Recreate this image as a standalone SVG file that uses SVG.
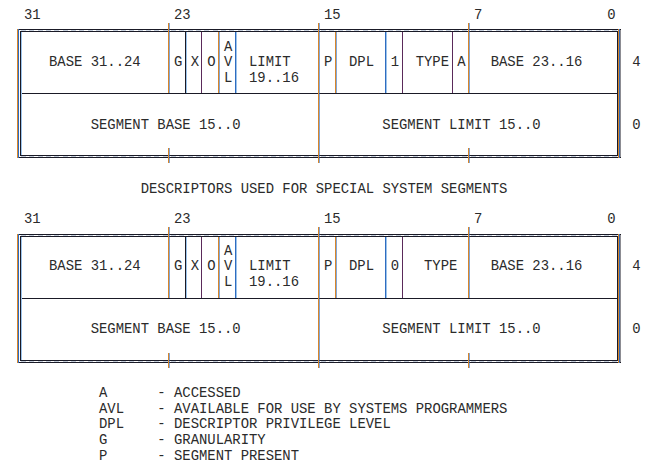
<svg xmlns="http://www.w3.org/2000/svg" width="652" height="469" viewBox="0 0 652 469">
<style>
text{font-family:"Liberation Mono","Courier New",monospace;font-size:13.9px;fill:#2b2b2b}
line{stroke-width:1;shape-rendering:crispEdges}
.k{stroke:#1a1a26}
.o{stroke:#d8862a}
.b{stroke:#2f6cc0}
.lb{stroke:#9cc4ec}
.p{stroke:#5a2a5a}
.g{stroke:#c4cedc;stroke-dasharray:5 3.33}
</style>
<rect width="652" height="469" fill="#ffffff"/>

<!-- ===== Descriptor 1 ===== -->
<g id="desc1-lines">
  <line class="g" x1="21" y1="30.5" x2="617" y2="30.5"/>
  <line class="g" x1="21" y1="156.5" x2="617" y2="156.5"/>
  <line class="k" x1="17" y1="29.5" x2="621" y2="29.5"/>
  <line class="k" x1="20" y1="31.5" x2="618" y2="31.5"/>
  <line class="k" x1="21" y1="93.5" x2="617" y2="93.5"/>
  <line class="k" x1="20" y1="155.5" x2="618" y2="155.5"/>
  <line class="k" x1="17" y1="157.5" x2="621" y2="157.5"/>
  <line class="o" x1="17.5" y1="29" x2="17.5" y2="158"/>
  <line class="b" x1="18.5" y1="29" x2="18.5" y2="158"/>
  <line class="k" x1="20.5" y1="31" x2="20.5" y2="156"/>
  <line class="lb" x1="21.5" y1="32" x2="21.5" y2="155"/>
  <line class="k" x1="617.5" y1="31" x2="617.5" y2="156"/>
  <line class="o" x1="618.5" y1="29" x2="618.5" y2="158"/>
  <line class="b" x1="619.5" y1="29" x2="619.5" y2="158"/>
  <line class="k" x1="620.5" y1="29" x2="620.5" y2="158" stroke-opacity="0.5"/>
  <!-- bit 23 -->
  <line class="o" x1="168.5" y1="23" x2="168.5" y2="93"/>
  <line class="b" x1="169.5" y1="23" x2="169.5" y2="93" stroke-opacity="0.6"/>
  <line class="o" x1="168.5" y1="148" x2="168.5" y2="163"/>
  <line class="b" x1="169.5" y1="148" x2="169.5" y2="163" stroke-opacity="0.6"/>
  <!-- bit 15 -->
  <line class="o" x1="318.5" y1="23" x2="318.5" y2="163"/>
  <line class="b" x1="319.5" y1="23" x2="319.5" y2="163" stroke-opacity="0.6"/>
  <!-- bit 7 -->
  <line class="o" x1="468.5" y1="23" x2="468.5" y2="93"/>
  <line class="b" x1="469.5" y1="23" x2="469.5" y2="93" stroke-opacity="0.6"/>
  <line class="o" x1="468.5" y1="148" x2="468.5" y2="163"/>
  <line class="b" x1="469.5" y1="148" x2="469.5" y2="163" stroke-opacity="0.6"/>
  <!-- field separators -->
  <line class="k" x1="185.5" y1="32" x2="185.5" y2="93"/>
  <line class="lb" x1="186.5" y1="32" x2="186.5" y2="93"/>
  <line class="p" x1="201.5" y1="32" x2="201.5" y2="93"/>
  <line class="o" x1="218.5" y1="32" x2="218.5" y2="93"/>
  <line class="b" x1="219.5" y1="32" x2="219.5" y2="93" stroke-opacity="0.6"/>
  <line class="b" x1="235.5" y1="32" x2="235.5" y2="93"/>
  <line class="lb" x1="236.5" y1="32" x2="236.5" y2="93"/>
  <line class="o" x1="335.5" y1="32" x2="335.5" y2="93"/>
  <line class="b" x1="336.5" y1="32" x2="336.5" y2="93" stroke-opacity="0.6"/>
  <line class="b" x1="385.5" y1="32" x2="385.5" y2="93"/>
  <line class="lb" x1="386.5" y1="32" x2="386.5" y2="93"/>
  <line class="p" x1="402.5" y1="32" x2="402.5" y2="93"/>
  <line class="p" x1="452.5" y1="32" x2="452.5" y2="93"/>
</g>
<g id="desc1">
  <g id="d1-bits"><text x="24" y="19.3">31</text><text x="174" y="19.3">23</text><text x="324" y="19.3">15</text><text x="474" y="19.3">7</text><text x="607.33" y="19.3">0</text></g>
  <g id="d1-base3124"><text x="49" y="66.3">BASE 31..24</text></g>
  <g id="d1-g"><text x="174" y="66.3">G</text></g>
  <g id="d1-x"><text x="190.67" y="66.3">X</text></g>
  <g id="d1-o"><text x="207.33" y="66.3">O</text></g>
  <g id="d1-avl"><text x="224" y="50.5">A</text><text x="224" y="66.3">V</text><text x="224" y="82">L</text></g>
  <g id="d1-limit"><text x="249" y="66.3">LIMIT</text><text x="249" y="82">19..16</text></g>
  <g id="d1-p"><text x="324" y="66.3">P</text></g>
  <g id="d1-dpl"><text x="349" y="66.3">DPL</text></g>
  <g id="d1-one"><text x="390.67" y="66.3">1</text></g>
  <g id="d1-type"><text x="415.67" y="66.3">TYPE</text></g>
  <g id="d1-a"><text x="457.33" y="66.3">A</text></g>
  <g id="d1-base2316"><text x="490.67" y="66.3">BASE 23..16</text></g>
  <g id="d1-segbase"><text x="90.67" y="129.3">SEGMENT BASE 15..0</text></g>
  <g id="d1-seglimit"><text x="382.33" y="129.3">SEGMENT LIMIT 15..0</text></g>
  <g id="d1-offsets"><text x="632.33" y="66.3">4</text><text x="632.33" y="129.3">0</text></g>
</g>

<g id="caption"><text x="140.67" y="192.6">DESCRIPTORS USED FOR SPECIAL SYSTEM SEGMENTS</text></g>

<!-- ===== Descriptor 2 ===== -->
<g id="desc2-lines">
  <line class="g" x1="21" y1="235.5" x2="617" y2="235.5"/>
  <line class="g" x1="21" y1="361.5" x2="617" y2="361.5"/>
  <line class="k" x1="17" y1="234.5" x2="621" y2="234.5"/>
  <line class="k" x1="20" y1="236.5" x2="618" y2="236.5"/>
  <line class="k" x1="21" y1="298.5" x2="617" y2="298.5"/>
  <line class="k" x1="20" y1="360.5" x2="618" y2="360.5"/>
  <line class="k" x1="17" y1="362.5" x2="621" y2="362.5"/>
  <line class="o" x1="17.5" y1="234" x2="17.5" y2="363"/>
  <line class="b" x1="18.5" y1="234" x2="18.5" y2="363"/>
  <line class="k" x1="20.5" y1="236" x2="20.5" y2="361"/>
  <line class="lb" x1="21.5" y1="237" x2="21.5" y2="360"/>
  <line class="k" x1="617.5" y1="236" x2="617.5" y2="361"/>
  <line class="o" x1="618.5" y1="234" x2="618.5" y2="363"/>
  <line class="b" x1="619.5" y1="234" x2="619.5" y2="363"/>
  <line class="k" x1="620.5" y1="234" x2="620.5" y2="363" stroke-opacity="0.5"/>
  <line class="o" x1="168.5" y1="227" x2="168.5" y2="298"/>
  <line class="b" x1="169.5" y1="227" x2="169.5" y2="298" stroke-opacity="0.6"/>
  <line class="o" x1="168.5" y1="353" x2="168.5" y2="368"/>
  <line class="b" x1="169.5" y1="353" x2="169.5" y2="368" stroke-opacity="0.6"/>
  <line class="o" x1="318.5" y1="227" x2="318.5" y2="368"/>
  <line class="b" x1="319.5" y1="227" x2="319.5" y2="368" stroke-opacity="0.6"/>
  <line class="o" x1="468.5" y1="227" x2="468.5" y2="298"/>
  <line class="b" x1="469.5" y1="227" x2="469.5" y2="298" stroke-opacity="0.6"/>
  <line class="o" x1="468.5" y1="353" x2="468.5" y2="368"/>
  <line class="b" x1="469.5" y1="353" x2="469.5" y2="368" stroke-opacity="0.6"/>
  <line class="k" x1="185.5" y1="237" x2="185.5" y2="298"/>
  <line class="lb" x1="186.5" y1="237" x2="186.5" y2="298"/>
  <line class="p" x1="201.5" y1="237" x2="201.5" y2="298"/>
  <line class="o" x1="218.5" y1="237" x2="218.5" y2="298"/>
  <line class="b" x1="219.5" y1="237" x2="219.5" y2="298" stroke-opacity="0.6"/>
  <line class="b" x1="235.5" y1="237" x2="235.5" y2="298"/>
  <line class="lb" x1="236.5" y1="237" x2="236.5" y2="298"/>
  <line class="o" x1="335.5" y1="237" x2="335.5" y2="298"/>
  <line class="b" x1="336.5" y1="237" x2="336.5" y2="298" stroke-opacity="0.6"/>
  <line class="b" x1="385.5" y1="237" x2="385.5" y2="298"/>
  <line class="lb" x1="386.5" y1="237" x2="386.5" y2="298"/>
  <line class="p" x1="402.5" y1="237" x2="402.5" y2="298"/>
</g>
<g id="desc2">
  <g id="d2-bits"><text x="24" y="223.3">31</text><text x="174" y="223.3">23</text><text x="324" y="223.3">15</text><text x="474" y="223.3">7</text><text x="607.33" y="223.3">0</text></g>
  <g id="d2-base3124"><text x="49" y="270.3">BASE 31..24</text></g>
  <g id="d2-g"><text x="174" y="270.3">G</text></g>
  <g id="d2-x"><text x="190.67" y="270.3">X</text></g>
  <g id="d2-o"><text x="207.33" y="270.3">O</text></g>
  <g id="d2-avl"><text x="224" y="254.5">A</text><text x="224" y="270.3">V</text><text x="224" y="286">L</text></g>
  <g id="d2-limit"><text x="249" y="270.3">LIMIT</text><text x="249" y="286">19..16</text></g>
  <g id="d2-p"><text x="324" y="270.3">P</text></g>
  <g id="d2-dpl"><text x="349" y="270.3">DPL</text></g>
  <g id="d2-zero"><text x="390.67" y="270.3">0</text></g>
  <g id="d2-type"><text x="424" y="270.3">TYPE</text></g>
  <g id="d2-base2316"><text x="490.67" y="270.3">BASE 23..16</text></g>
  <g id="d2-segbase"><text x="90.67" y="333.3">SEGMENT BASE 15..0</text></g>
  <g id="d2-seglimit"><text x="382.33" y="333.3">SEGMENT LIMIT 15..0</text></g>
  <g id="d2-offsets"><text x="632.33" y="270.3">4</text><text x="632.33" y="333.3">0</text></g>
</g>

<!-- ===== Legend ===== -->
<g id="legend">
  <text x="99" y="397">A</text><text x="157.33" y="397">- ACCESSED</text>
  <text x="99" y="412.65">AVL</text><text x="157.33" y="412.65">- AVAILABLE FOR USE BY SYSTEMS PROGRAMMERS</text>
  <text x="99" y="428.3">DPL</text><text x="157.33" y="428.3">- DESCRIPTOR PRIVILEGE LEVEL</text>
  <text x="99" y="443.95">G</text><text x="157.33" y="443.95">- GRANULARITY</text>
  <text x="99" y="459.6">P</text><text x="157.33" y="459.6">- SEGMENT PRESENT</text>
</g>
</svg>
